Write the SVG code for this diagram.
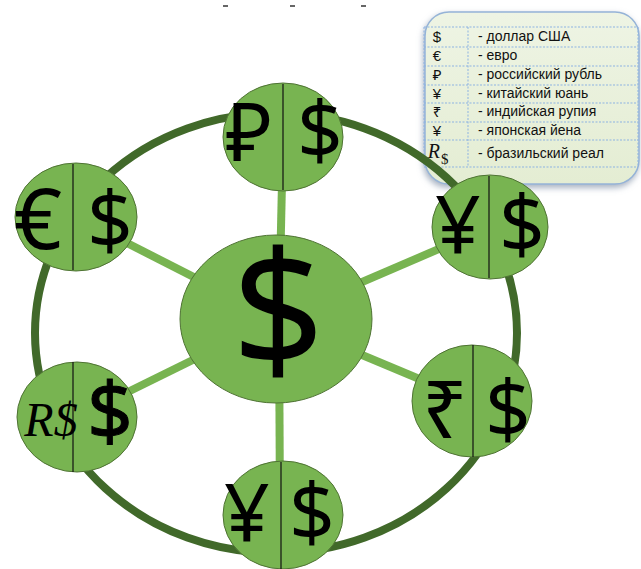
<svg xmlns="http://www.w3.org/2000/svg" width="641" height="569" viewBox="0 0 641 569">
<defs>
<filter id="sh" x="-20%" y="-20%" width="140%" height="140%">
<feDropShadow dx="-1" dy="3" stdDeviation="3" flood-color="#7f8fa6" flood-opacity="0.7"/>
</filter>
<linearGradient id="lg" x1="0" y1="0" x2="0" y2="1">
<stop offset="0" stop-color="#eef4e4"/>
<stop offset="1" stop-color="#e4edd3"/>
</linearGradient>
</defs>
<style>
.node{fill:#78b451;stroke:#4f7334;stroke-width:1}
.div{stroke:#111;stroke-width:1.2}
.sym{font-family:"Noto Sans","DejaVu Sans",sans-serif;font-size:80px;fill:#000;text-anchor:middle}
.spoke{stroke:#78b451;stroke-width:8}
.lt{font-family:"Liberation Sans","Noto Sans",sans-serif;font-size:14px;fill:#111}
.ls{font-family:"Liberation Sans","Noto Sans",sans-serif;font-size:15px;fill:#111;text-anchor:middle}
.dl{stroke:#8db3e2;stroke-width:1;stroke-dasharray:2,1.5;fill:none}
</style>
<g id="marks" stroke="#333" stroke-width="1.5">
<line x1="223" y1="6" x2="228" y2="6"/>
<line x1="290" y1="6" x2="295" y2="6"/>
<line x1="361" y1="6" x2="366" y2="6"/>
</g>
<g id="legend">
<rect x="425" y="12" width="214" height="172" rx="24" fill="url(#lg)" stroke="#95b3d7" stroke-width="1.5" filter="url(#sh)"/>
<g class="dl">
<line x1="424" y1="27" x2="638" y2="27"/>
<line x1="424" y1="47" x2="638" y2="47"/>
<line x1="424" y1="66" x2="638" y2="66"/>
<line x1="424" y1="85" x2="638" y2="85"/>
<line x1="424" y1="103" x2="638" y2="103"/>
<line x1="424" y1="122" x2="638" y2="122"/>
<line x1="424" y1="140" x2="638" y2="140"/>
<line x1="424" y1="167" x2="638" y2="167"/>
<line x1="424" y1="27" x2="424" y2="167"/>
<line x1="468" y1="27" x2="468" y2="167"/>
<line x1="638" y1="27" x2="638" y2="167"/>
</g>
<text class="ls" x="437" y="42">$</text>
<text class="ls" x="437" y="61">€</text>
<text class="ls" x="437" y="80">₽</text>
<text class="ls" x="437" y="99">¥</text>
<text class="ls" x="437" y="117">₹</text>
<text class="ls" x="437" y="136">¥</text>
<text x="440" y="158" style="font-family:'Liberation Serif',serif;font-size:20px;font-style:italic;fill:#111" text-anchor="end">R</text>
<text x="441" y="164" style="font-family:'Liberation Serif',serif;font-size:15px;fill:#111">$</text>
<text class="lt" x="478" y="41">- доллар США</text>
<text class="lt" x="478" y="60">- евро</text>
<text class="lt" x="478" y="79">- российский рубль</text>
<text class="lt" x="478" y="98">- китайский юань</text>
<text class="lt" x="478" y="116">- индийская рупия</text>
<text class="lt" x="478" y="135">- японская йена</text>
<text class="lt" x="478" y="158">- бразильский реал</text>
</g>
<g id="connectors">
<ellipse cx="276" cy="333" rx="241" ry="220" fill="none" stroke="#41692a" stroke-width="8"/>
<line class="spoke" x1="279" y1="319" x2="283" y2="137"/>
<line class="spoke" x1="276" y1="319" x2="76" y2="217"/>
<line class="spoke" x1="276" y1="319" x2="490" y2="227"/>
<line class="spoke" x1="276" y1="319" x2="77" y2="417"/>
<line class="spoke" x1="276" y1="319" x2="472" y2="401"/>
<line class="spoke" x1="279" y1="319" x2="280" y2="515"/>
</g>
<g id="center">
<ellipse class="node" cx="276" cy="319" rx="96" ry="84"/>
<text class="sym" x="278" y="368" style="font-size:162px">$</text>
</g>
<g id="node-rub">
<ellipse class="node" cx="283" cy="137" rx="60" ry="54"/>
<line class="div" x1="283" y1="84" x2="283" y2="190"/>
<text class="sym" x="249" y="161">₽</text>
<text class="sym" x="320" y="159">$</text>
</g>
<g id="node-eur">
<ellipse class="node" cx="76" cy="217" rx="61" ry="54"/>
<line class="div" x1="73" y1="164" x2="73" y2="270"/>
<text class="sym" x="38" y="249" style="font-size:84px">€</text>
<text class="sym" x="110" y="249">$</text>
</g>
<g id="node-cny">
<ellipse class="node" cx="490" cy="227" rx="58" ry="52"/>
<line class="div" x1="489" y1="176" x2="489" y2="278"/>
<text class="sym" x="458" y="253">¥</text>
<text class="sym" x="522" y="253">$</text>
</g>
<g id="node-brl">
<ellipse class="node" cx="77" cy="417" rx="60" ry="55"/>
<line class="div" x1="73" y1="362" x2="73" y2="472"/>
<text x="51" y="436" text-anchor="middle" style="font-family:'Liberation Serif',serif;font-size:48px;font-style:italic;fill:#000">R$</text>
<text class="sym" x="110" y="440" style="stroke:#000;stroke-width:1">$</text>
</g>
<g id="node-inr">
<ellipse class="node" cx="472" cy="401" rx="60" ry="56"/>
<line class="div" x1="473" y1="345" x2="473" y2="457"/>
<text class="sym" x="445" y="438">₹</text>
<text class="sym" x="508" y="438">$</text>
</g>
<g id="node-jpy">
<ellipse class="node" cx="283" cy="515" rx="60" ry="54"/>
<line class="div" x1="281" y1="462" x2="281" y2="569"/>
<text class="sym" x="247" y="541">¥</text>
<text class="sym" x="312" y="541">$</text>
</g>
</svg>
